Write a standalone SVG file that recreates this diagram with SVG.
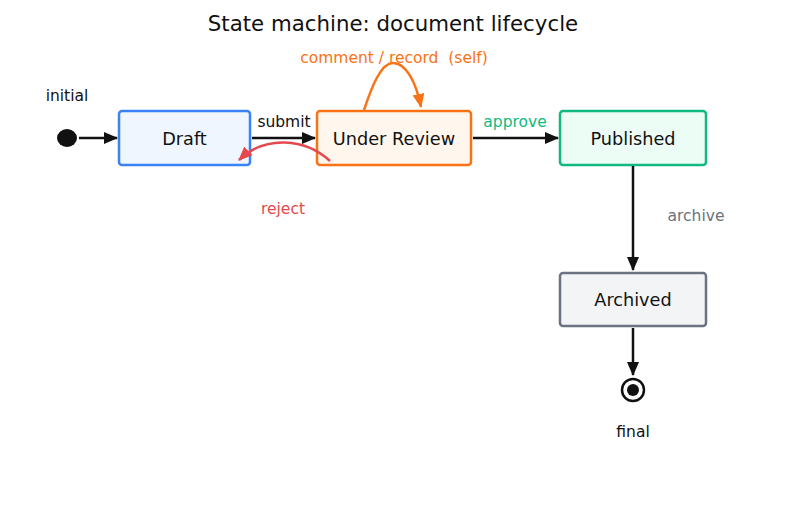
<svg xmlns="http://www.w3.org/2000/svg" width="787" height="508" viewBox="0 0 787 508">
<defs>
<style>
text{font-family:"DejaVu Sans","Liberation Sans",sans-serif;white-space:pre;}
.title{font-size:21.3px;fill:#111;text-anchor:middle;}
.nl{font-size:17.7px;fill:#111;text-anchor:middle;}
.el{font-size:15.5px;text-anchor:middle;}
.box{stroke-width:2.5;}
.edge{fill:none;stroke-width:2.5;}
</style>
<marker id="ak" viewBox="0 0 14 12" refX="13" refY="6" markerWidth="14" markerHeight="12" markerUnits="userSpaceOnUse" orient="auto"><path d="M0,0 L14,6 L0,12 Z" fill="#111"/></marker>
<marker id="ao" viewBox="0 0 14 12" refX="13" refY="6" markerWidth="14" markerHeight="12" markerUnits="userSpaceOnUse" orient="auto"><path d="M0,0 L14,6 L0,12 Z" fill="#f97316"/></marker>
<marker id="ar" viewBox="0 0 14 12" refX="13" refY="6" markerWidth="14" markerHeight="12" markerUnits="userSpaceOnUse" orient="auto"><path d="M0,0 L14,6 L0,12 Z" fill="#e5484d"/></marker>
</defs>
<rect width="787" height="508" fill="#fff"/>
<text class="title" x="393" y="31">State machine: document lifecycle</text>
<g id="initial"><ellipse cx="67" cy="138" rx="10" ry="9" fill="#111"/></g>
<g id="draft"><rect class="box" x="119" y="111" width="131" height="54" rx="3" fill="#eff6ff" stroke="#3b82f6"/><text class="nl" x="184.5" y="145">Draft</text></g>
<g id="review"><rect class="box" x="317" y="111" width="154" height="54" rx="3" fill="#fff7ed" stroke="#f97316"/><text class="nl" x="394" y="145">Under Review</text></g>
<g id="published"><rect class="box" x="560" y="111" width="146" height="54" rx="3" fill="#ecfdf5" stroke="#10b981"/><text class="nl" x="633" y="145">Published</text></g>
<g id="archived"><rect class="box" x="560" y="273" width="146" height="53" rx="3" fill="#f3f4f6" stroke="#6b7280"/><text class="nl" x="633" y="306">Archived</text></g>
<g id="final"><circle cx="633" cy="390" r="11" fill="#fff" stroke="#111" stroke-width="2.5"/><circle cx="633" cy="390" r="6" fill="#111"/></g>
<g id="connectors">
<path class="edge" stroke="#111" d="M79,138 L117,138" marker-end="url(#ak)"/>
<path class="edge" stroke="#111" d="M252,138 L315,138" marker-end="url(#ak)"/>
<path class="edge" stroke="#111" d="M473,138 L558,138" marker-end="url(#ak)"/>
<path class="edge" stroke="#111" d="M633,166 L633,270" marker-end="url(#ak)"/>
<path class="edge" stroke="#111" d="M633,328 L633,375" marker-end="url(#ak)"/>
<path class="edge" stroke="#f97316" d="M364,110 C372,86 381,63 393,63 C406,63 416,82 421,107" marker-end="url(#ao)"/>
<path class="edge" stroke="#e5484d" d="M330,161 C305,138 265,135 239,160" marker-end="url(#ar)"/>
<text class="el" x="67" y="101" fill="#111">initial</text>
<text class="el" x="284" y="127" fill="#111">submit</text>
<text class="el" x="515" y="127" fill="#10b981">approve</text>
<text class="el" x="696" y="221" fill="#6b7280">archive</text>
<text class="el" x="283" y="214" fill="#e5484d">reject</text>
<text class="el" x="394" y="63" fill="#f97316">comment / record  (self)</text>
<text class="el" x="633" y="437" fill="#111">final</text>
</g>
</svg>
